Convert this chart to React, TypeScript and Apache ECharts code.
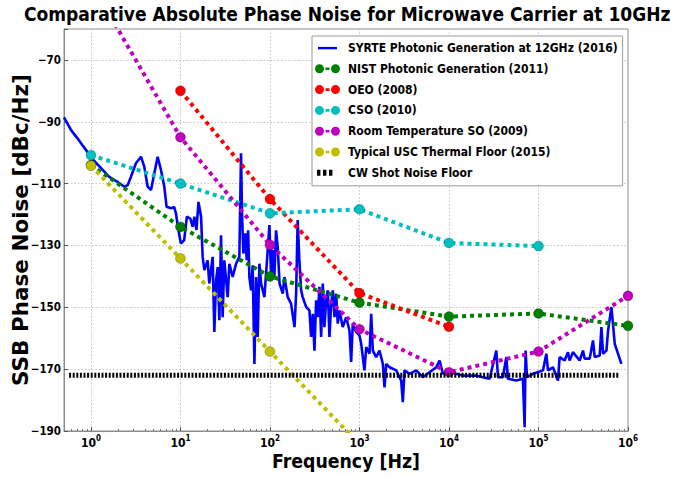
import React, { useEffect, useRef } from 'react';
import * as echarts from 'echarts';

const FONT_C = '"DejaVu Sans Condensed", "DejaVu Sans", sans-serif';
const FONT = '"DejaVu Sans", sans-serif';

const titleText = 'Comparative Absolute Phase Noise for Microwave Carrier at 10GHz';
const xName = 'Frequency [Hz]';
const yName = 'SSB Phase Noise [dBc/Hz]';

const seriesNames = [
  'SYRTE Photonic Generation at 12GHz (2016)',
  'NIST Photonic Generation (2011)',
  'OEO (2008)',
  'CSO (2010)',
  'Room Temperature SO (2009)',
  'Typical USC Thermal Floor (2015)',
  'CW Shot Noise Floor',
];
const seriesColors = ['#0000ff', '#008000', '#ff0000', '#00bfbf', '#bf00bf', '#bfbf00', '#000000'];

const syrteFreq = [
  0.5, 0.6, 0.7, 0.8, 0.9, 1.0, 1.25, 1.6, 1.98, 2.36, 2.57, 2.8, 3.18, 3.62, 3.94, 4.3, 4.69, 5.1, 5.56, 6.06,
  6.6, 7.0, 7.86, 8.5, 8.9, 9.5, 10.1, 11, 11.8, 12.9, 13.7, 14.3, 15.1, 15.9, 17.0, 17.7, 18.5, 20.1, 21.0, 22.9,
  23.9, 25.0, 26.1, 27.2, 28.4, 29.6, 30.9, 33.7, 35.2, 38.3, 41.8, 45.5, 47.5, 48.8, 50.5, 53.1, 55.0, 57.0, 58.9, 61.5,
  64.1, 67.0, 70.0, 72.9, 76.2, 79.6, 86.7, 94.4, 98.6, 103, 107, 112, 117, 122, 128, 139, 145, 158, 172, 188,
  196, 204, 213, 223, 232, 254, 276, 288, 301, 314, 328, 342, 357, 373, 389, 406, 424, 443, 462, 483,
  504, 526, 549, 572, 597, 650, 710, 773, 807, 842, 918, 1000, 1045, 1137, 1189, 1294, 1352, 1410, 1538, 1674,
  1824, 1905, 1990, 2168, 2573, 2925, 3050, 3185, 3622, 4305, 5105, 6067, 7210, 7850, 8550, 10150, 12060, 14290, 20180, 23920,
  28430, 33800, 35250, 40000, 43750, 45500, 56500, 67000, 70000, 71800, 74300, 86700, 112200, 122400, 127600, 145100, 164900, 172300, 195900, 213300,
  222700, 242500, 288400, 314100, 328100, 373300, 406300, 424300, 482600, 504700, 526100, 574100, 598800, 652900, 711200, 843700,
];
const syrteNoise = [
  -88.6, -92.7, -95.2, -97.5, -99.5, -101.5, -104.5, -107.8, -109.4, -111.0, -110.5, -107.8, -103.4, -101.3, -104.5, -111.0, -112.1, -106.7, -101.3, -105.6,
  -111.0, -117.5, -118.0, -117.5, -119.6, -125.0, -129.4, -128.3, -120.7, -121.3, -124.0, -120.7, -125.0, -115.9, -120.7, -133.7, -138.0, -134.8, -142.3, -133.7,
  -158.0, -141.3, -137.0, -154.2, -126.7, -153.2, -134.8, -146.7, -135.9, -140.2, -135.9, -133.7, -100.2, -120.7, -132.6, -126.1, -134.8, -125.1, -140.2, -144.5,
  -136.4, -168.3, -140.2, -159.6, -135.9, -142.3, -146.7, -131.5, -123.4, -140.2, -131.5, -140.2, -125.1, -130.5, -142.3, -145.6, -140.2, -146.7, -148.8, -156.4,
  -145.6, -121.8, -134.8, -144.5, -146.7, -149.9, -151.0, -159.6, -152.1, -164.0, -147.7, -153.2, -143.4, -159.6, -142.3, -156.4, -147.7, -144.5, -159.6, -148.8,
  -144.5, -153.2, -145.6, -155.3, -151.0, -156.4, -153.2, -157.5, -167.7, -155.3, -158.0, -159.1, -161.8, -170.4, -162.9, -165.0, -152.1, -164.0, -166.1, -164.0,
  -168.3, -175.9, -168.3, -169.4, -170.4, -173.7, -180.7, -170.4, -171.5, -170.4, -172.6, -171.0, -169.4, -167.2, -171.5, -171.0, -171.5, -172.1, -172.1, -172.6,
  -173.1, -164.0, -172.6, -172.6, -166.1, -173.1, -173.7, -173.1, -188.8, -164.0, -172.6, -171.5, -170.4, -165.0, -170.4, -169.4, -173.7, -166.1, -167.2, -164.5,
  -167.2, -164.5, -167.2, -164.0, -166.6, -166.6, -160.7, -166.1, -165.6, -156.4, -165.0, -164.0, -157.5, -149.9, -161.8, -168.3,
];

const nistFreq = [1, 10, 100, 1000, 10000, 100000, 1000000];
const nistNoise = [-104, -124, -140, -148.5, -153, -152, -156];
const oeoFreq = [10, 100, 1000, 10000];
const oeoNoise = [-80, -115, -145.4, -156.3];
const csoFreq = [1, 10, 100, 1000, 10000, 100000];
const csoNoise = [-100.8, -110, -119.6, -118.3, -129.2, -130.2];
const rtsoFreq = [1, 10, 100, 1000, 10000, 100000, 1000000];
const rtsoNoise = [-45, -95, -129.8, -157.1, -171, -164.3, -146.3];
const uscFreq = [1, 10, 100, 1000];
const uscNoise = [-104.2, -134.2, -164.3, -194.3];
const shotFreq = [0.57, 810000];
const shotNoise = [-172, -172];

const xMin = 0.5;
const xMax = 1000000;
const yMin = -190;
const yMax = -60;
const yInterval = 20;
const xTickExponents = [0, 1, 2, 3, 4, 5, 6];
const minorMultipliers = [2, 3, 4, 5, 6, 7, 8, 9];

const pair = (xs: number[], ys: number[]) => xs.map((x, i) => [x, ys[i]]);

const ICON_LINE = 'path://M0,0M28,9M3,3.4h19v2.4h-19Z';
const ICON_DOTS = 'path://M0,0M28,9M0,4.5a4.5,4.5 0 1,0 9,0a4.5,4.5 0 1,0 -9,0Z M16,4.5a4.5,4.5 0 1,0 9,0a4.5,4.5 0 1,0 -9,0Z M10.5,3.2h4v2.6h-4Z';
const ICON_SHOT = 'path://M0,0M28,9M2,1.5h3.4v6h-3.4Z M8,1.5h3.4v6h-3.4Z M14,1.5h3.4v6h-3.4Z';

export default function App() {
  const ref = useRef<HTMLDivElement>(null);
  useEffect(() => {
    if (!ref.current) return;
    const chart = echarts.init(ref.current, null, { renderer: 'svg' });

    const minorTicks: number[] = [0.6, 0.7, 0.8, 0.9];
    for (let e = 0; e < 6; e++) {
      for (const m of minorMultipliers) minorTicks.push(m * Math.pow(10, e));
    }

    const dotted = (idx: number, xs: number[], ys: number[]) => ({
      name: seriesNames[idx],
      type: 'line',
      data: pair(xs, ys),
      color: seriesColors[idx],
      symbol: 'circle',
      symbolSize: 10,
      showSymbol: true,
      clip: true,
      lineStyle: { color: seriesColors[idx], width: 4, type: [4, 4] },
      itemStyle: { color: seriesColors[idx], borderColor: 'rgba(0,0,0,0.35)', borderWidth: 0.6 },
      emphasis: { disabled: true },
      z: 3 + idx,
    });

    const option: any = {
      animation: false,
      backgroundColor: '#ffffff',
      title: {
        text: titleText,
        left: 24,
        top: 4,
        padding: 0,
        textStyle: { fontFamily: FONT_C, fontWeight: 'bold', fontSize: 19, color: '#000' },
      },
      grid: {
        left: 64,
        right: 48,
        top: 29,
        bottom: 46,
        show: true,
        borderColor: '#8c8c8c',
        borderWidth: 1,
        backgroundColor: 'transparent',
        containLabel: false,
        outerBoundsMode: 'none',
      },
      legend: {
        orient: 'vertical',
        left: 312,
        top: 36,
        padding: [5, 5, 6, 3],
        itemGap: 6.8,
        itemWidth: 28,
        itemHeight: 9,
        backgroundColor: '#ffffff',
        borderColor: '#9a9a9a',
        borderWidth: 1,
        borderRadius: 0,
        selectedMode: false,
        textStyle: { fontFamily: FONT_C, fontWeight: 'bold', fontSize: 12, color: '#000', lineHeight: 14 },
        data: seriesNames.map((name, i) => ({
          name,
          icon: i === 0 ? ICON_LINE : i === 6 ? ICON_SHOT : ICON_DOTS,
          itemStyle: { color: seriesColors[i], borderWidth: 0 },
        })),
      },
      xAxis: [
        {
          type: 'log',
          logBase: 10,
          min: xMin,
          max: xMax,
          name: xName,
          nameLocation: 'middle',
          nameGap: 21,
          nameMoveOverlap: false,
          nameTextStyle: { fontFamily: FONT_C, fontWeight: 'bold', fontSize: 19.3, color: '#000' },
          axisLine: { show: true, lineStyle: { color: '#8c8c8c', width: 1 } },
          axisTick: {
            show: true,
            inside: true,
            length: 4,
            lineStyle: { color: '#555' },
            customValues: xTickExponents.map((e) => Math.pow(10, e)),
          },
          axisLabel: {
            show: true,
            margin: 3,
            customValues: xTickExponents.map((e) => Math.pow(10, e)),
            formatter: (v: number) => {
              const e = Math.round(Math.log10(v));
              if (Math.abs(Math.log10(v) - e) > 1e-6) return '';
              return `{b|10}{s|${e}}`;
            },
            rich: {
              b: { fontFamily: FONT_C, fontWeight: 'bold', fontSize: 12, color: '#000', verticalAlign: 'bottom', lineHeight: 15 },
              s: { fontFamily: FONT_C, fontWeight: 'bold', fontSize: 8, color: '#000', verticalAlign: 'top', lineHeight: 9 },
            },
          },
          splitLine: {
            show: true,
            lineStyle: { color: '#c4c4c4', width: 1, type: [1.5, 2] },
          },
          minorTick: { show: false },
          minorSplitLine: { show: false },
        },
        {
          type: 'log',
          logBase: 10,
          min: xMin,
          max: xMax,
          position: 'bottom',
          axisLine: { show: false },
          axisLabel: { show: false },
          splitLine: { show: false },
          axisTick: {
            show: true,
            inside: true,
            length: 2,
            lineStyle: { color: '#777' },
            customValues: minorTicks,
          },
        },
      ],
      yAxis: {
        type: 'value',
        min: yMin,
        max: yMax,
        interval: yInterval,
        name: yName,
        nameLocation: 'middle',
        nameRotate: 90,
        nameGap: 33,
        nameMoveOverlap: false,
        nameTextStyle: { fontFamily: FONT, fontWeight: 'bold', fontSize: 21.5, color: '#000' },
        axisLine: { show: true, lineStyle: { color: '#8c8c8c', width: 1 } },
        axisTick: { show: true, inside: true, length: 4, lineStyle: { color: '#555' } },
        axisLabel: {
          margin: 3,
          fontFamily: FONT_C,
          fontWeight: 'bold',
          fontSize: 11.5,
          color: '#000',
          formatter: (v: number) => (v === yMax ? '' : v < 0 ? '\u2212' + Math.abs(v) : String(v)),
        },
        splitLine: { show: true, lineStyle: { color: '#c4c4c4', width: 1, type: [1.5, 2] } },
      },
      series: [
        {
          name: seriesNames[0],
          type: 'line',
          data: pair(syrteFreq, syrteNoise),
          color: seriesColors[0],
          symbol: 'none',
          showSymbol: false,
          clip: true,
          lineStyle: { color: seriesColors[0], width: 2.6 },
          emphasis: { disabled: true },
          z: 2,
        },
        dotted(1, nistFreq, nistNoise),
        dotted(2, oeoFreq, oeoNoise),
        dotted(3, csoFreq, csoNoise),
        dotted(4, rtsoFreq, rtsoNoise),
        dotted(5, uscFreq, uscNoise),
        {
          name: seriesNames[6],
          type: 'line',
          data: pair(shotFreq, shotNoise),
          color: seriesColors[6],
          symbol: 'none',
          showSymbol: false,
          clip: true,
          lineStyle: { color: seriesColors[6], width: 5, type: [2, 1.6] },
          emphasis: { disabled: true },
          z: 9,
        },
      ],
    };

    chart.setOption(option);
    return () => chart.dispose();
  }, []);

  return (
    <div
      ref={ref}
      style={{ position: 'fixed', left: 0, top: 0, width: 676, height: 477, background: '#fff' }}
    />
  );
}
